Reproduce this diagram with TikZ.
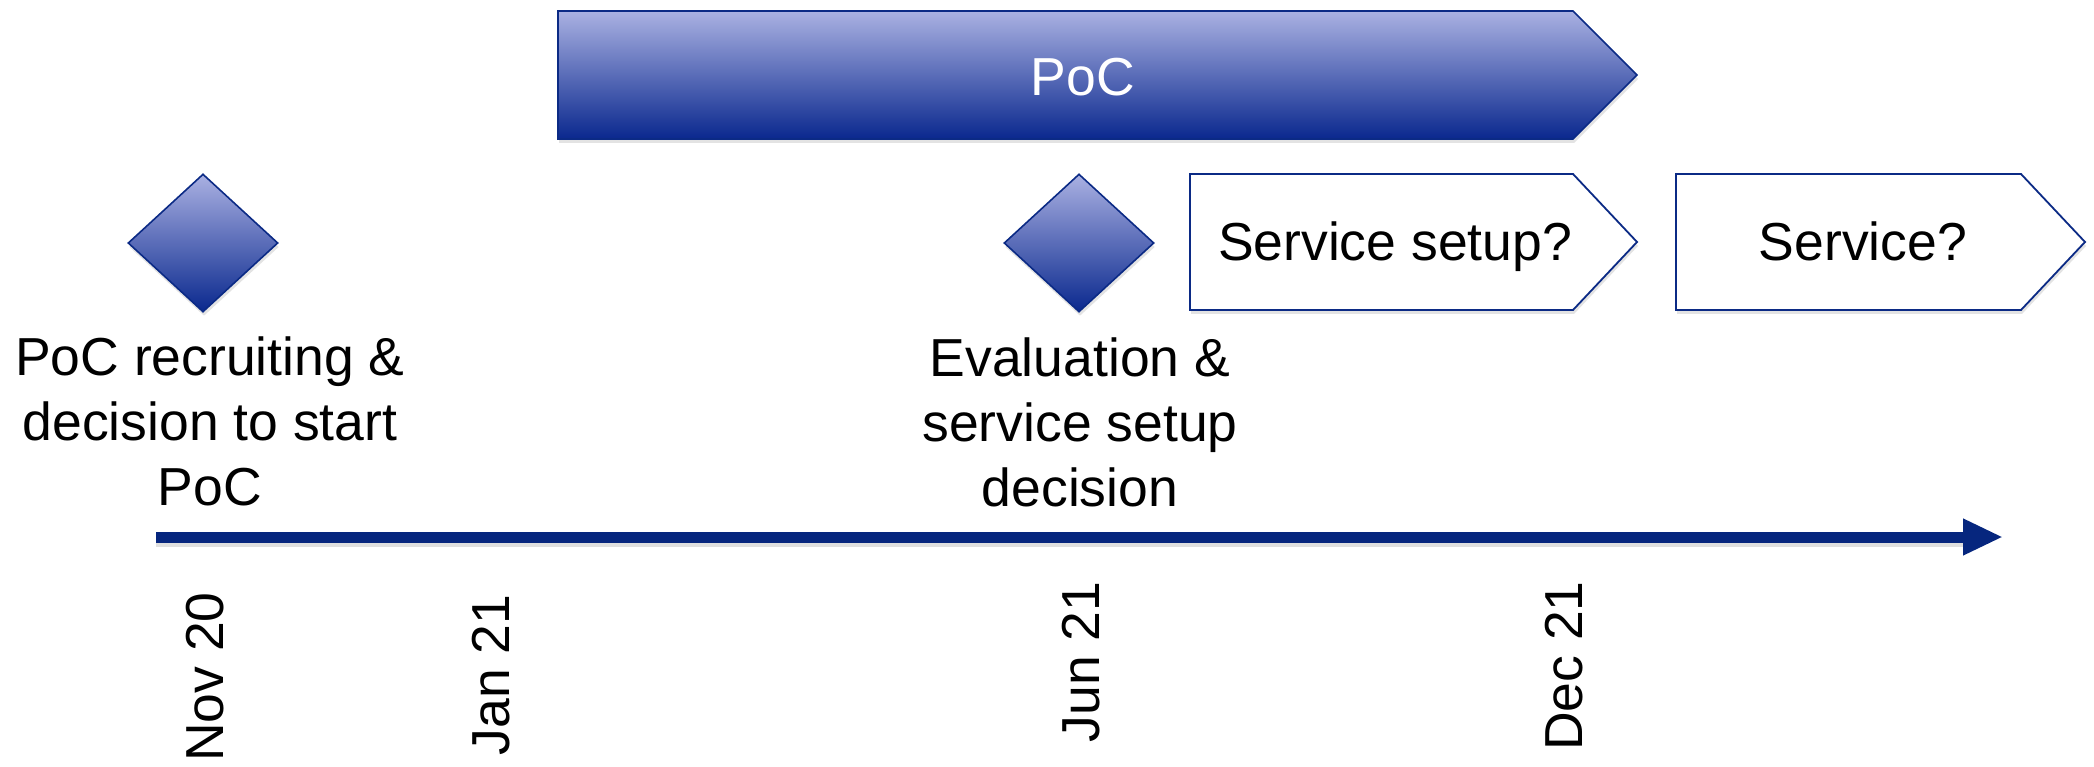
\documentclass[tikz,border=0pt]{standalone}
\usepackage{fontspec}
\setmainfont{Liberation Sans}
\usetikzlibrary{shadows,arrows.meta,shapes.geometric}
\definecolor{navy}{HTML}{0B2A85}
\definecolor{lav}{HTML}{AAB1E2}
\definecolor{dk}{HTML}{0A288E}
\definecolor{line}{HTML}{06267E}
\tikzset{
  grad/.style={draw=navy,line width=1.6pt,top color=lav,bottom color=dk,line join=miter},
  outl/.style={draw=navy,line width=1.8pt,fill=white,line join=miter},
  shad/.style={drop shadow={opacity=0.22,shadow xshift=1pt,shadow yshift=-4pt}},
  big/.style={font=\fontsize{53.5}{65}\selectfont,inner sep=0pt},
  lbl/.style={big,align=center},
  datelbl/.style={big,rotate=90},
}
\begin{document}
\begin{tikzpicture}[x=1pt,y=-1pt]
\useasboundingbox (0,0) rectangle (2094,767);
% PoC phase arrow
\path[grad,shad] (558,11) -- (1573,11) -- (1637,75) -- (1573,139) -- (558,139) -- cycle;
\node[big,text=white,anchor=base] (poc) at (1083,96) {PoC};
% milestones
\node[grad,shad,diamond,minimum width=150pt,minimum height=138pt,inner sep=0pt] (d1) at (203,243) {};
\node[grad,shad,diamond,minimum width=150pt,minimum height=138pt,inner sep=0pt] (d2) at (1079,243) {};
% future phases
\path[outl,shad] (1190,174) -- (1573,174) -- (1637,242) -- (1573,310) -- (1190,310) -- cycle;
\node[big,anchor=base] (setup) at (1395,261) {Service setup?};
\path[outl,shad] (1676,174) -- (2021,174) -- (2085,242) -- (2021,310) -- (1676,310) -- cycle;
\node[big,anchor=base] (service) at (1863,261) {Service?};
% milestone labels
\node[lbl] (l1) at (210,421) {PoC recruiting \&\\decision to start\\PoC};
\node[lbl] (l2) at (1080,422) {Evaluation \&\\service setup\\decision};
% timeline
\coordinate (t0) at (156,537);
\coordinate (t1) at (2003,537);
\draw[black!25,line width=9pt,opacity=0.5] ([yshift=-5pt]t0) -- ([yshift=-5pt,xshift=-40pt]t1);
\draw[line,line width=11pt,-{Triangle[length=40pt,width=34pt]}] (t0) -- (t1);
% dates
\node[datelbl] (nov) at (205,677) {Nov 20};
\node[datelbl] (jan) at (491,675) {Jan 21};
\node[datelbl] (jun) at (1081,662) {Jun 21};
\node[datelbl] (dec) at (1564,666) {Dec 21};
\end{tikzpicture}
\end{document}
